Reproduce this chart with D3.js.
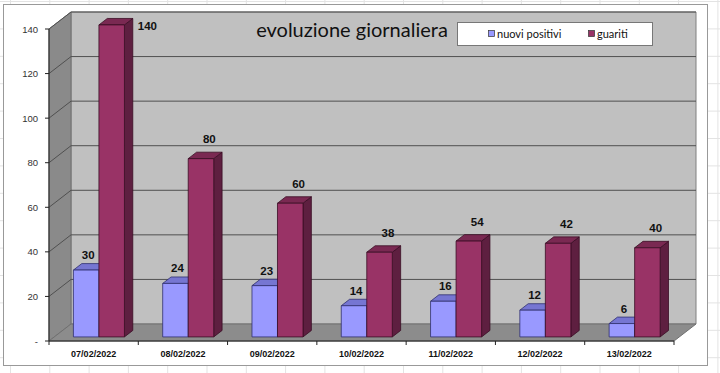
<!DOCTYPE html>
<html>
<head>
<meta charset="utf-8">
<script src="https://cdn.jsdelivr.net/npm/d3@7"></script>
<style>
  body { margin: 0; background: #fff; }
  svg { display: block; }
</style>
</head>
<body>
<div id="chart"></div>
<script>
const WIDTH = 720;
const HEIGHT = 373;

// data
const categories = ['07/02/2022', '08/02/2022', '09/02/2022', '10/02/2022', '11/02/2022', '12/02/2022', '13/02/2022'];
const nuoviPositivi = [30, 24, 23, 14, 16, 12, 6];
// bar heights as drawn; the 11/02 bar is drawn lower than its label says
const guariti = [140, 80, 60, 38, 43, 42, 40];
const guaritiLabels = [140, 80, 60, 38, 54, 42, 40];
const yTicks = [0, 20, 40, 60, 80, 100, 120, 140];
const seriesNames = ['nuovi positivi', 'guariti'];

// 3d look
const DX = 22, DY = -17;        // depth offset of the back wall
const F1 = 0.24, F2 = 0.62;     // bar front / back depth
const colors = {
  'nuovi positivi': { front: '#9999ff', top: '#7676d2', side: '#5f5fb0', stroke: '#30306e' },
  'guariti': { front: '#993366', top: '#7a2952', side: '#5e1f40', stroke: '#3a0e24' }
};

const svg = d3.select('#chart')
  .append('svg')
    .attr('width', WIDTH)
    .attr('height', HEIGHT)
    .style('font-family', '"Liberation Sans", Arial, sans-serif');

// spreadsheet cells behind the chart
const sheet = svg.append('g').attr('stroke', '#e3e3e3').attr('stroke-width', 1);
d3.range(10.5, WIDTH, 39.3).forEach(x => {
  sheet.append('line').attr('x1', x).attr('x2', x).attr('y1', 0).attr('y2', HEIGHT);
});
d3.range(1.5, HEIGHT, 27.4).forEach(y => {
  sheet.append('line').attr('x1', 0).attr('x2', WIDTH).attr('y1', y).attr('y2', y);
});

svg.append('rect')
  .attr('x', 3.5).attr('y', 4.5)
  .attr('width', 704).attr('height', 361)
  .attr('fill', '#fff')
  .attr('stroke', '#999');

const x = d3.scaleBand()
  .domain(categories)
  .range([49, 674])
  .padding(0);

const xSub = d3.scaleBand()
  .domain(seriesNames)
  .range([0, x.bandwidth()])
  .paddingInner(0)
  .paddingOuter(0.75);

const y = d3.scaleLinear()
  .domain([0, 140])
  .range([341, 29]);

const p = (px, v, depth) => [px + depth * DX, y(v) + depth * DY];
const poly = pts => 'M' + pts.map(d => d.join(',')).join('L') + 'Z';

const x0 = x.range()[0], x1 = x.range()[1];

// walls and floor
svg.append('path')
  .attr('d', poly([p(x0, 140, 1), p(x1, 140, 1), p(x1, 0, 1), p(x0, 0, 1)]))
  .attr('fill', '#c0c0c0')
  .attr('stroke', '#808080');

svg.append('path')
  .attr('d', poly([p(x0, 140, 0), p(x0, 140, 1), p(x0, 0, 1), p(x0, 0, 0)]))
  .attr('fill', '#8a8a8a')
  .attr('stroke', '#707070');

// gridlines on back wall and side wall
yTicks.filter(t => t > 0).forEach(t => {
  const a = p(x0, t, 0), b = p(x0, t, 1), c = p(x1, t, 1);
  svg.append('path')
    .attr('d', 'M' + a + 'L' + b + 'L' + c)
    .attr('fill', 'none')
    .attr('stroke', '#505050')
    .attr('stroke-width', 1);
});

svg.append('path')
  .attr('d', poly([p(x0, 0, 0), p(x0, 0, 1), p(x1, 0, 1), p(x1, 0, 0)]))
  .attr('fill', '#8c8c8c')
  .attr('stroke', '#707070');

// y axis
svg.append('line')
  .attr('x1', x0).attr('x2', x0)
  .attr('y1', y(0)).attr('y2', y(140))
  .attr('stroke', '#222');

svg.selectAll('.ytick')
  .data(yTicks)
  .enter()
    .append('line')
    .attr('x1', x0 - 4).attr('x2', x0)
    .attr('y1', d => y(d)).attr('y2', d => y(d))
    .attr('stroke', '#222');

svg.selectAll('.ylabel')
  .data(yTicks)
  .enter()
    .append('text')
    .attr('x', 38)
    .attr('y', d => y(d) + 3.5)
    .attr('text-anchor', 'end')
    .attr('font-size', '9.5px')
    .attr('fill', '#333')
    .text(d => d === 0 ? '-' : d);

// x axis
svg.append('line')
  .attr('x1', x0).attr('x2', x1)
  .attr('y1', y(0)).attr('y2', y(0))
  .attr('stroke', '#222');

svg.selectAll('.xtick')
  .data(categories.concat(['end']))
  .enter()
    .append('line')
    .attr('x1', (d, i) => x0 + i * x.step())
    .attr('x2', (d, i) => x0 + i * x.step())
    .attr('y1', y(0)).attr('y2', y(0) + 4)
    .attr('stroke', '#222');

svg.selectAll('.xlabel')
  .data(categories)
  .enter()
    .append('text')
    .attr('x', d => x(d) + x.bandwidth() / 2)
    .attr('y', 357)
    .attr('text-anchor', 'middle')
    .attr('font-size', '9px')
    .attr('font-weight', 'bold')
    .attr('fill', '#111')
    .text(d => d);

// bars
const rows = [];
categories.forEach((c, i) => {
  rows.push({ cat: c, key: 'nuovi positivi', value: nuoviPositivi[i], label: nuoviPositivi[i] });
  rows.push({ cat: c, key: 'guariti', value: guariti[i], label: guaritiLabels[i] });
});

const bars = svg.append('g');
rows.forEach(d => {
  const xa = x(d.cat) + xSub(d.key);
  const xb = xa + xSub.bandwidth();
  const col = colors[d.key];
  const g = bars.append('g')
    .attr('stroke', col.stroke)
    .attr('stroke-width', 0.8)
    .attr('stroke-linejoin', 'round');
  g.append('path')
    .attr('d', poly([p(xb, 0, F1), p(xb, d.value, F1), p(xb, d.value, F2), p(xb, 0, F2)]))
    .attr('fill', col.side);
  g.append('path')
    .attr('d', poly([p(xa, d.value, F1), p(xb, d.value, F1), p(xb, d.value, F2), p(xa, d.value, F2)]))
    .attr('fill', col.top);
  g.append('path')
    .attr('d', poly([p(xa, 0, F1), p(xb, 0, F1), p(xb, d.value, F1), p(xa, d.value, F1)]))
    .attr('fill', col.front);
});

// value labels
rows.forEach(d => {
  const xa = x(d.cat) + xSub(d.key);
  const w = xSub.bandwidth();
  const back = p(xa + w / 2, d.value, F2);
  let lx, ly;
  if (d.key === 'nuovi positivi') {
    lx = xa + w / 2 + F1 * DX + 2;
    ly = back[1] - 4.5;
  } else {
    lx = back[0];
    ly = back[1] - 9;
  }
  let anchor = 'middle';
  if (ly < y(140) + DY) {
    // no room above: Excel puts it beside the bar
    lx = xa + w + F2 * DX + 5;
    ly = p(xa, d.value, F1)[1] + 5;
    anchor = 'start';
  }
  svg.append('text')
    .attr('x', lx)
    .attr('y', ly)
    .attr('text-anchor', anchor)
    .attr('font-size', '11.5px')
    .attr('font-weight', 'bold')
    .attr('fill', '#111')
    .text(d.label);
});

// title
svg.append('text')
  .attr('x', 352)
  .attr('y', 37)
  .attr('text-anchor', 'middle')
  .style('font-family', 'Lato, "Open Sans", sans-serif')
  .attr('font-size', '20px')
  .attr('fill', '#111')
  .text('evoluzione giornaliera');

// legend
const legend = svg.append('g').attr('transform', 'translate(457, 22)');
legend.append('rect')
  .attr('x', 0.5).attr('y', 0.5)
  .attr('width', 195).attr('height', 23)
  .attr('fill', '#fff')
  .attr('stroke', '#777');

const legendX = [31, 131];
seriesNames.forEach((name, i) => {
  legend.append('rect')
    .attr('x', legendX[i] + 0.5).attr('y', 8.5)
    .attr('width', 6).attr('height', 6)
    .attr('fill', colors[name].front)
    .attr('stroke', '#333')
    .attr('stroke-width', 0.7);
  legend.append('text')
    .attr('x', legendX[i] + 9)
    .attr('y', 16)
    .style('font-family', 'Lato, "Open Sans", sans-serif')
    .attr('font-size', '11px')
    .attr('fill', '#111')
    .text(name);
});
</script>
</body>
</html>
